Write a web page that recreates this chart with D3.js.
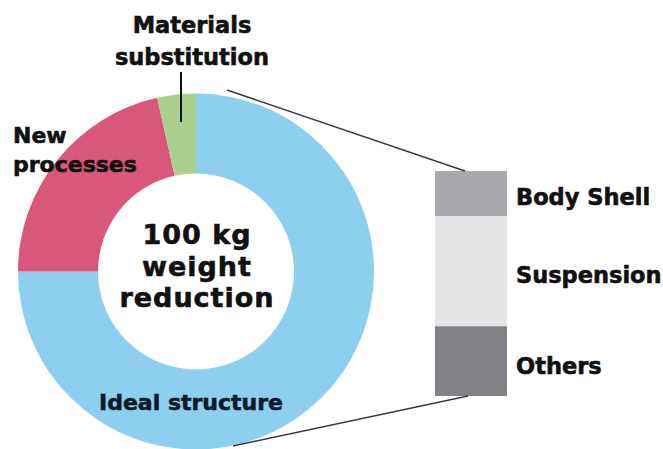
<!DOCTYPE html>
<html>
<head>
<meta charset="utf-8">
<script src="https://cdn.jsdelivr.net/npm/d3@7"></script>
<style>
  html, body { margin: 0; padding: 0; background: #fff; }
  svg { display: block; }
  text { font-family: "DejaVu Sans", sans-serif; font-weight: bold; stroke-width: 0.6; }
</style>
</head>
<body>
<svg id="chart" width="663" height="449"></svg>
<script>
// Share of the 100 kg weight reduction by approach (%)
const sliceNames  = ["Ideal structure", "New processes", "Materials substitution"];
const sliceValues = [75, 21.5, 3.5];
const sliceColors = ["#8ecfef", "#d9577a", "#a9d08e"];

// Breakdown of the "Ideal structure" share (%), top to bottom
const partNames  = ["Body Shell", "Suspension", "Others"];
const partValues = [20, 49, 31];
const partColors = ["#a7a9ac", "#e4e5e6", "#818285"];

const centerLines = ["100 kg", "weight", "reduction"];

const svg = d3.select("#chart");
const cx = 196, cy = 271.5, rOuter = 178, rInner = 98;

// Donut
const pie = d3.pie().sort(null).value(d => d)(sliceValues);
const arc = d3.arc().innerRadius(rInner).outerRadius(rOuter);
const donut = svg.append("g").attr("transform", `translate(${cx},${cy})`);
donut.selectAll("path").data(pie).join("path")
  .attr("d", arc)
  .attr("fill", (d, i) => sliceColors[i]);

// Stacked breakdown bar
const barX = 435, barW = 72, barTop = 171, barBottom = 396;
const y = d3.scaleLinear().domain([0, d3.sum(partValues)]).range([barTop, barBottom]);
const cum = d3.cumsum(partValues);
const parts = partValues.map((v, i) => ({ name: partNames[i], y0: cum[i] - v, y1: cum[i], color: partColors[i] }));
svg.selectAll("rect.part").data(parts).join("rect")
  .attr("class", "part")
  .attr("x", barX).attr("width", barW)
  .attr("y", d => y(d.y0)).attr("height", d => y(d.y1) - y(d.y0))
  .attr("fill", d => d.color);

// Connector lines from the ideal-structure slice to the bar
const conn = [
  [[227, 90], [465, y(0)]],
  [[233, 446], [468, y(d3.sum(partValues))]]
];
svg.selectAll("line.conn").data(conn).join("line")
  .attr("class", "conn")
  .attr("x1", d => d[0][0]).attr("y1", d => d[0][1])
  .attr("x2", d => d[1][0]).attr("y2", d => d[1][1])
  .attr("stroke", "#3a3a3a").attr("stroke-width", 1.5);

// Bar labels
const labelY = [205, 283, 374];
svg.selectAll("text.part").data(parts).join("text")
  .attr("class", "part")
  .attr("x", 516).attr("y", (d, i) => labelY[i])
  .attr("font-size", 22.5).attr("fill", "#111").attr("stroke", "#111")
  .text(d => d.name);

// Slice labels
svg.append("text").attr("x", 192).attr("y", 33).attr("text-anchor", "middle")
  .attr("font-size", 22.5).attr("fill", "#111").attr("stroke", "#111").text("Materials");
svg.append("text").attr("x", 192).attr("y", 65).attr("text-anchor", "middle")
  .attr("font-size", 22.5).attr("fill", "#111").attr("stroke", "#111").text("substitution");
svg.append("line").attr("x1", 181).attr("x2", 181).attr("y1", 72).attr("y2", 122)
  .attr("stroke", "#111").attr("stroke-width", 2);

svg.append("text").attr("x", 13).attr("y", 143)
  .attr("font-size", 22).attr("fill", "#111").attr("stroke", "#111").text("New");
svg.append("text").attr("x", 13).attr("y", 172)
  .attr("font-size", 22).attr("fill", "#111").attr("stroke", "#111").text("processes");

svg.append("text").attr("x", 191).attr("y", 410).attr("text-anchor", "middle")
  .attr("font-size", 22).attr("fill", "#0e1a2b").attr("stroke", "#0e1a2b").text(sliceNames[0]);

// Centre caption
svg.selectAll("text.center").data(centerLines).join("text")
  .attr("class", "center")
  .attr("x", 197).attr("y", (d, i) => 244 + i * 31.5)
  .attr("text-anchor", "middle")
  .attr("font-size", 27).attr("letter-spacing", 1)
  .attr("fill", "#111").attr("stroke", "#111")
  .text(d => d);
</script>
</body>
</html>
